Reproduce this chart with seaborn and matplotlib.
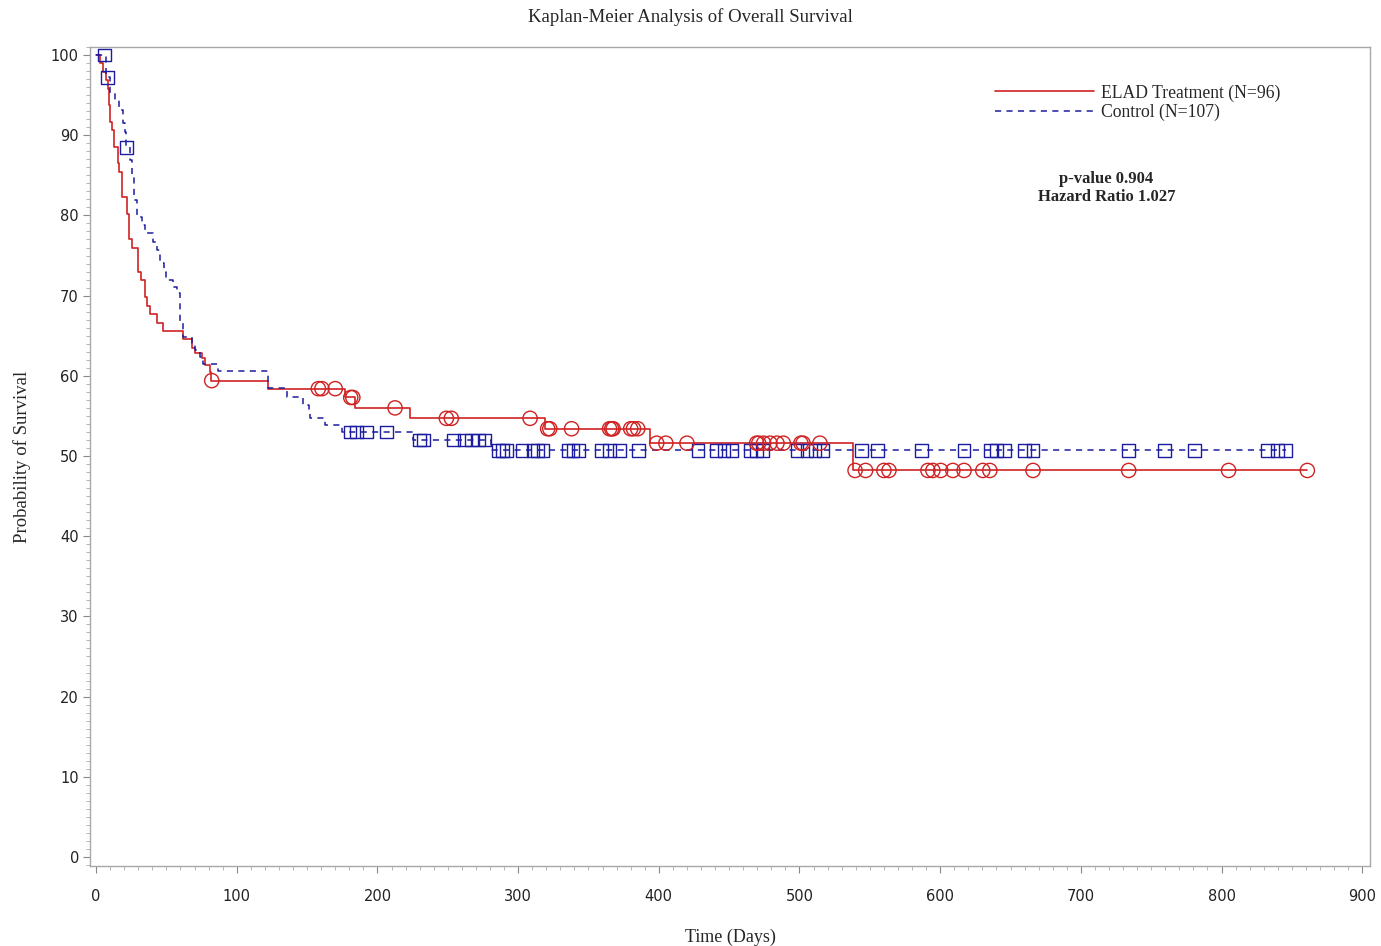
import numpy as np
import pandas as pd
import matplotlib
matplotlib.use("Agg")
import matplotlib.pyplot as plt
from matplotlib.ticker import MultipleLocator
import seaborn as sns

# Kaplan-Meier step functions: time (days) of each drop and survival (%) after it
elad_times = [0, 3, 5, 7, 8.5, 9.5, 10, 11, 13, 15.4, 16, 18.3, 21.8, 23.5, 25.4,
              30.1, 32, 34.8, 36, 38.4, 43.1, 47.9, 62, 68, 70.4, 75.1, 77.5, 81,
              82, 122.5, 177, 184, 223, 319, 394, 538, 861]
elad_surv = [100, 99.0, 97.9, 96.9, 95.8, 93.8, 91.7, 90.6, 88.5, 86.5, 85.4, 82.3,
             80.2, 77.1, 76.0, 72.9, 71.9, 69.8, 68.7, 67.7, 66.6, 65.6, 64.6, 63.5,
             62.9, 62.2, 61.3, 60.5, 59.4, 58.4, 57.3, 56.0, 54.7, 53.4, 51.6, 48.2,
             48.2]

ctrl_times = [0, 7, 10, 13.5, 16, 19, 20.6, 21.5, 24, 25.4, 27, 29, 32.5, 35, 40.7,
              43, 45.5, 48, 50, 55, 57.3, 59.7, 62, 68, 70.4, 74, 76.3, 86.9, 122.5,
              136, 147, 151, 152, 163, 175, 225, 281, 845.5]
ctrl_surv = [100, 97.2, 95.3, 94.4, 93.1, 91.5, 90.4, 88.5, 86.9, 85.0, 81.9, 79.8,
             78.8, 77.8, 76.7, 75.7, 74.1, 73.0, 71.9, 71.1, 70.3, 66.6, 64.9, 64.1,
             63.2, 62.4, 61.5, 60.6, 58.5, 57.3, 56.4, 55.5, 54.7, 53.9, 53.0, 52.0,
             50.7, 50.7]

# Censoring times (days)
elad_censored = [82.2, 158, 160.5, 170, 181, 182.5, 212.5, 249, 252.5, 308.5, 321,
                 322.5, 338, 365, 366.5, 367.5, 380, 382, 385, 398.5, 405, 420,
                 469.5, 471, 474.5, 479, 484, 488.5, 501, 502.5, 514.5, 539.5, 547,
                 560, 563.6, 591.3, 594.8, 600.4, 609, 617, 630.3, 635.3, 666, 734,
                 805, 861]
ctrl_censored = [6, 8, 21.8, 180.5, 185, 192.4, 206.6, 230, 232.6, 254, 262, 267,
                 271.7, 276.5, 286, 289, 292, 302.8, 310.6, 314, 317.7, 335.5, 339,
                 343, 359.4, 365, 372, 385.6, 427.9, 440.7, 446.3, 452, 465.2,
                 469.5, 473.8, 498.2, 505.3, 511, 516.7, 544, 555.6, 587, 617, 636,
                 640, 646, 660, 666, 733.6, 759.7, 781, 832.5, 839.7, 845.5]

groups = ["ELAD Treatment (N=96)", "Control (N=107)"]
p_value = "0.904"
hazard_ratio = "1.027"

RED = "#d02222"
BLUE = "#1c1ca0"


def surv_at(times, surv, t):
    idx = np.searchsorted(np.asarray(times), np.asarray(t), side="right") - 1
    return np.asarray(surv)[idx]


sns.set_theme(style="ticks")
plt.rcParams["font.family"] = ["DejaVu Sans"]

fig = plt.figure(figsize=(13.81, 9.46), dpi=100)
ax = fig.add_axes([0.0652, 0.0846, 0.9268, 0.8657])

elad_df = pd.DataFrame({"time": elad_times, "surv": elad_surv})
ctrl_df = pd.DataFrame({"time": ctrl_times, "surv": ctrl_surv})

sns.lineplot(data=elad_df, x="time", y="surv", ax=ax, drawstyle="steps-post",
             estimator=None, sort=False, color=RED, linewidth=1.2,
             label=groups[0])
sns.lineplot(data=ctrl_df, x="time", y="surv", ax=ax, drawstyle="steps-post",
             estimator=None, sort=False, color=BLUE, linewidth=1.1,
             linestyle=(0, (4, 3.5)), label=groups[1])

elad_cdf = pd.DataFrame({"time": elad_censored,
                         "surv": surv_at(elad_times, elad_surv, elad_censored)})
ctrl_cdf = pd.DataFrame({"time": ctrl_censored,
                         "surv": surv_at(ctrl_times, ctrl_surv, ctrl_censored)})

sq = sns.scatterplot(data=ctrl_cdf, x="time", y="surv", ax=ax, marker="s", s=85,
                     legend=False, zorder=4)
sq.collections[-1].set_facecolor("none")
sq.collections[-1].set_edgecolor(BLUE)
sq.collections[-1].set_linewidth(1.0)

ci = sns.scatterplot(data=elad_cdf, x="time", y="surv", ax=ax, marker="o", s=105,
                     legend=False, zorder=5)
ci.collections[-1].set_facecolor("none")
ci.collections[-1].set_edgecolor(RED)
ci.collections[-1].set_linewidth(1.0)

ax.set_xlim(-4.3, 905.5)
ax.set_ylim(-1.12, 101.0)
ax.xaxis.set_major_locator(MultipleLocator(100))
ax.xaxis.set_minor_locator(MultipleLocator(10))
ax.yaxis.set_major_locator(MultipleLocator(10))
ax.yaxis.set_minor_locator(MultipleLocator(1))

for side in ["left", "right", "top", "bottom"]:
    ax.spines[side].set_visible(True)
    ax.spines[side].set_color("#a8a8a8")
    ax.spines[side].set_linewidth(1.0)

ax.tick_params(axis="both", which="major", length=5, width=0.8, color="#888888",
               labelsize=10.5, labelcolor="#222222")
ax.tick_params(axis="x", which="major", pad=11.5)
ax.tick_params(axis="y", which="major", pad=3)
ax.tick_params(axis="both", which="minor", length=3, width=0.6, color="#aaaaaa")

serif = ["Liberation Serif", "DejaVu Serif"]
ax.set_xlabel("Time (Days)", family=serif, fontsize=13, labelpad=18)
ax.set_ylabel("Probability of Survival", family=serif, fontsize=13.5, labelpad=14)
fig.text(0.5, 0.982, "Kaplan-Meier Analysis of Overall Survival", family=serif,
         fontsize=13.5, ha="center", va="center")

leg = ax.legend(loc="upper left", bbox_to_anchor=(0.7015, 0.963), frameon=False,
                handlelength=5.6, handletextpad=0.4, labelspacing=0.12,
                prop={"family": serif, "size": 12.7}, borderaxespad=0)

ax.text(0.794, 0.828, f"p-value {p_value}\nHazard Ratio {hazard_ratio}",
        transform=ax.transAxes, ha="center", va="center", family=serif,
        fontsize=12, fontweight="bold", linespacing=1.2)

fig.savefig("out.png", dpi=100, facecolor="white")
